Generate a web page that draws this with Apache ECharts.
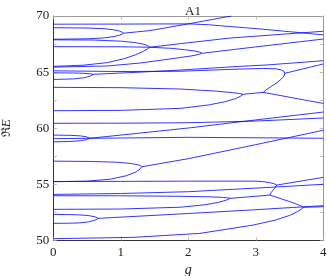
<!DOCTYPE html>
<html><head><meta charset="utf-8">
<script src="https://cdn.jsdelivr.net/npm/echarts@6/dist/echarts.min.js"></script>
<style>html,body{margin:0;padding:0;background:#fff}#c{width:327px;height:276px}</style>
</head><body><div id="c"></div>
<script>
// x ticks (g) and y ticks (Re E)
const xTicks = [0, 1, 2, 3, 4];
const yTicks = [50, 55, 60, 65, 70];

// ---- curves: [g, Re E] ----
const cA   = [[0,69.27],[1,69.28],[2.0,69.3],[2.3,69.22],[2.62,69.06],[3.06,68.85],[4,68.32]];
const cB   = [[0,68.96],[0.5,68.93],[0.75,68.87],[0.9,68.77],[0.98,68.66],[1.02,68.56],[1.04,68.47]];
const cC1  = [[0,67.93],[0.5,67.97],[0.75,68.05],[0.9,68.17],[0.98,68.28],[1.02,68.38],[1.04,68.47]];
const cEP1 = [[1.04,68.47],[1.43,68.7],[2.0,69.3],[2.64,70]];
const cC2  = [[0,67.88],[0.6,67.86],[1.0,67.76],[1.2,67.64],[1.33,67.5],[1.4,67.36],[1.43,67.22]];
const cD   = [[0,67.27],[1.0,67.26],[1.43,67.22],[1.75,67.12],[1.95,67.0],[2.1,66.88],[2.17,66.78],[2.2,66.68]];
const cX   = [[0,65.52],[0.44,65.62],[0.8,65.85],[1.05,66.2],[1.22,66.55],[1.34,66.88],[1.4,67.07],[1.43,67.22]];
const cEP2 = [[1.43,67.22],[1.9,67.55],[2.62,68.04],[4,68.64]];
const cY   = [[0,65.45],[0.8,65.55],[1.28,65.81],[1.58,66.05],[1.85,66.28],[2.05,66.45],[2.15,66.57],[2.2,66.68]];
const cEP3 = [[2.2,66.68],[3.0,67.25],[4,67.95]];
const cF   = [[0,65.12],[1.0,65.06],[1.88,65.08],[2.62,65.25],[3.1,65.33],[3.3,65.3],[3.38,65.2],[3.42,65.05],[3.43,64.9]];
const cG   = [[0,64.94],[0.3,64.93],[0.45,64.9],[0.54,64.86],[0.59,64.81]];
const cH   = [[0,64.35],[0.3,64.4],[0.45,64.5],[0.54,64.63],[0.59,64.81]];
const cEP4 = [[0.59,64.81],[1.28,65.0],[1.88,65.19],[2.76,65.52],[3.16,65.64],[4,66.02]];
const cI   = [[0,63.65],[1.0,63.62],[1.88,63.5],[2.4,63.32],[2.65,63.18],[2.76,63.1],[2.81,63.03]];
const cJ   = [[0,61.57],[1.0,61.6],[1.88,61.78],[2.3,62.08],[2.55,62.38],[2.7,62.65],[2.78,62.88],[2.81,63.03]];
const cEP6 = [[2.81,63.03],[3.11,63.2]];
const cK   = [[3.11,63.2],[3.15,63.42],[3.22,63.7],[3.31,64.05],[3.38,64.4],[3.42,64.68],[3.43,64.9]];
const cL   = [[3.11,63.2],[4,62.22]];
const cEP5 = [[3.43,64.9],[4,65.73]];
const cM   = [[0,60.45],[1.0,60.46],[2.0,60.5],[3.0,60.65],[4,60.92]];
const cN   = [[0,59.4],[0.25,59.38],[0.4,59.33],[0.49,59.25],[0.54,59.12]];
const cO   = [[0,58.8],[0.25,58.83],[0.4,58.9],[0.49,58.99],[0.54,59.12]];
const cEP7 = [[0.54,59.12],[1.0,59.4],[2.03,60.05],[3.0,60.75],[4,61.45]];
const cP   = [[0,59.08],[1.0,59.14],[2.0,59.2],[3.0,59.16],[4,59.12]];
const cQ   = [[0,57.08],[0.6,57.05],[0.95,56.98],[1.15,56.87],[1.25,56.76],[1.29,56.68],[1.31,56.58]];
const cR   = [[0,55.25],[0.5,55.3],[0.85,55.48],[1.08,55.78],[1.22,56.1],[1.28,56.35],[1.31,56.58]];
const cEP8 = [[1.31,56.58],[2.0,57.3],[3.0,58.55],[4,59.83]];
const cS   = [[0,55.27],[1,55.28],[2,55.3],[3.0,55.3],[3.12,55.25],[3.22,55.15],[3.28,55.05],[3.31,54.95]];
const cT   = [[0,54.12],[1,54.2],[2,54.36],[3,54.68],[4,55.02]];
const cU   = [[0,54.0],[1.0,54.0],[1.88,53.95],[2.35,53.9],[2.52,53.85],[2.6,53.8],[2.62,53.77]];
const cV   = [[0,52.79],[1.0,52.82],[1.88,52.98],[2.25,53.2],[2.45,53.42],[2.57,53.62],[2.62,53.77]];
const cEP9 = [[2.62,53.77],[3.21,54.06]];
const cW   = [[3.21,54.06],[3.23,54.3],[3.27,54.6],[3.31,54.95]];
const cEP12= [[3.31,54.95],[4,55.64]];
const cZ   = [[3.21,54.06],[3.3,53.88],[3.51,53.46],[3.62,53.22],[3.68,53.06],[3.7,52.97]];
const ca   = [[0,52.34],[0.35,52.31],[0.52,52.24],[0.62,52.12],[0.67,51.99]];
const cb   = [[0,51.54],[0.35,51.57],[0.52,51.67],[0.62,51.83],[0.67,51.99]];
const cEP11= [[0.67,51.99],[2,52.42],[3,52.76],[4,53.12]];
const cBot = [[0,50.18],[1.19,50.3],[2.17,50.65],[2.96,51.39],[3.3,51.85],[3.5,52.25],[3.62,52.6],[3.68,52.82],[3.7,52.97]];
const cEP10= [[3.7,52.97],[4,53.02]];

const curves = [cA,cB,cC1,cEP1,cC2,cD,cX,cEP2,cY,cEP3,cF,cG,cH,cEP4,cI,cJ,cEP6,cK,cL,cEP5,
  cM,cN,cO,cEP7,cP,cQ,cR,cEP8,cS,cT,cU,cV,cEP9,cW,cEP12,cZ,ca,cb,cEP11,cBot,cEP10];

const font = "'Liberation Serif','DejaVu Serif',serif";
const chart = echarts.init(document.getElementById('c'), null, {renderer:'canvas'});
const tickStyle = {show:true, inside:true, length:3.5, lineStyle:{color:'#aaa', width:0.8}};
chart.setOption({
  animation:false,
  backgroundColor:'#fff',
  title:{text:'A1', left:188, top:0, textAlign:'center',
    textStyle:{fontFamily:font, fontSize:13, fontWeight:'normal', color:'#222'}},
  grid:{left:53.3, right:3.7, top:16, bottom:35.3, containLabel:false, outerBoundsMode:'none'},
  xAxis:[
    {type:'value', min:xTicks[0], max:xTicks[xTicks.length-1], interval:1, position:'bottom',
     name:'g', nameLocation:'middle', nameGap:18,
     nameTextStyle:{fontFamily:font, fontSize:14, fontStyle:'italic', color:'#222'},
     axisLine:{show:true, onZero:false, lineStyle:{color:'#333', width:1}},
     axisTick:tickStyle, splitLine:{show:false},
     axisLabel:{fontFamily:font, fontSize:13, color:'#222', margin:5}},
    {type:'value', min:xTicks[0], max:xTicks[xTicks.length-1], interval:1, position:'top',
     axisLine:{show:true, onZero:false, lineStyle:{color:'#999', width:1}},
     axisTick:tickStyle, splitLine:{show:false}, axisLabel:{show:false}}
  ],
  yAxis:[
    {type:'value', min:yTicks[0], max:yTicks[yTicks.length-1], interval:2.5, position:'left',
     name:'{r|ℜ}{e|E}', nameLocation:'middle', nameGap:40,
     nameTextStyle:{fontFamily:font, fontSize:13, color:'#222',
       rich:{r:{fontFamily:"'DejaVu Serif',serif", fontSize:12, color:'#222'},
             e:{fontFamily:font, fontSize:13, fontStyle:'italic', color:'#222'}}},
     axisLine:{show:true, onZero:false, lineStyle:{color:'#333', width:1}},
     axisTick:tickStyle, splitLine:{show:false},
     axisLabel:{fontFamily:font, fontSize:13, color:'#222', margin:4,
       formatter:v => (yTicks.indexOf(v) >= 0 ? String(v) : '')}},
    {type:'value', min:yTicks[0], max:yTicks[yTicks.length-1], interval:2.5, position:'right',
     axisLine:{show:true, onZero:false, lineStyle:{color:'#999', width:1}},
     axisTick:tickStyle, splitLine:{show:false}, axisLabel:{show:false}}
  ],
  series: curves.map(d => ({
    type:'line', data:d, xAxisIndex:0, yAxisIndex:0,
    showSymbol:false, symbol:'none', smooth:false,
    lineStyle:{color:'#0000ff', width:0.8, opacity:1},
    silent:true
  }))
});
</script></body></html>
